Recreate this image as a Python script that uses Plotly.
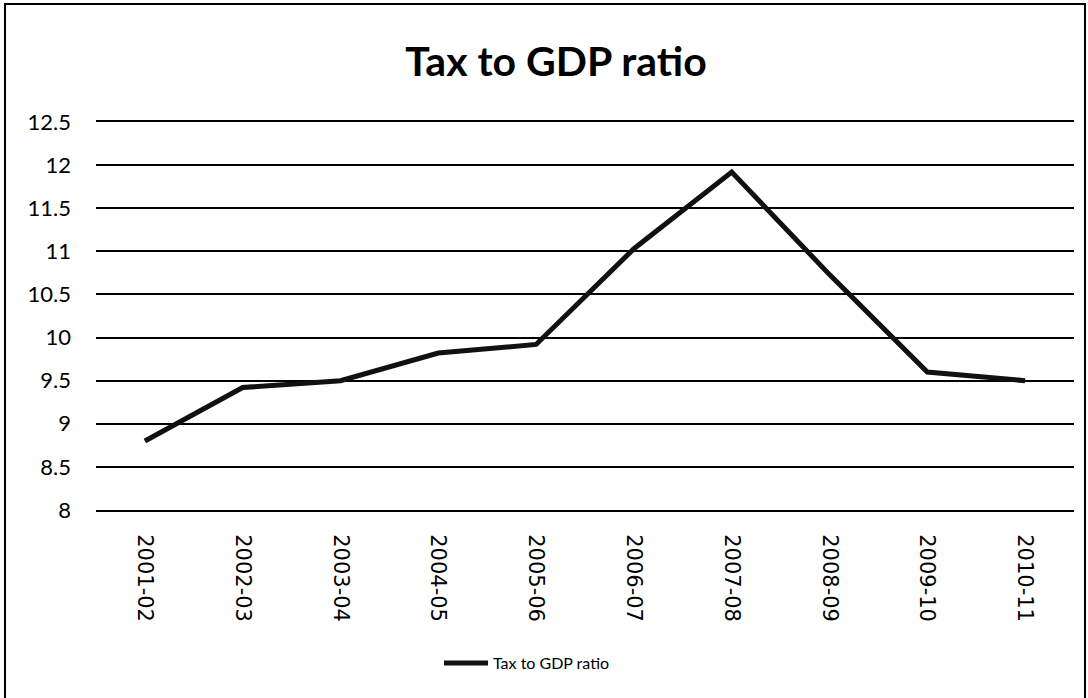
import plotly.graph_objects as go

years = ["2001-02", "2002-03", "2003-04", "2004-05", "2005-06",
         "2006-07", "2007-08", "2008-09", "2009-10", "2010-11"]
tax_gdp = [8.8, 9.42, 9.5, 9.82, 9.92, 11.03, 11.92, 10.73, 9.6, 9.5]
y_ticks = [8, 8.5, 9, 9.5, 10, 10.5, 11, 11.5, 12, 12.5]
y_tick_text = ["8", "8.5", "9", "9.5", "10", "10.5", "11", "11.5", "12", "12.5"]

W, H = 1088, 698
L, R, T, B = 96, 14, 122, 188
pw, ph = W - L - R, H - T - B


def px_x(p):
    return (p - L) / pw


def px_y(p):
    return (H - B - p) / ph


fig = go.Figure()
fig.add_trace(go.Scatter(
    x=years, y=tax_gdp, mode="lines", name="Tax to GDP ratio",
    line=dict(color="#111111", width=5),
))

fig.update_layout(
    width=W, height=H,
    margin=dict(l=L, r=R, t=T, b=B),
    paper_bgcolor="white", plot_bgcolor="white",
    title=dict(text="<b>Tax to GDP ratio</b>", x=556 / W, xref="container",
               xanchor="center", y=1 - 62 / H, yanchor="middle",
               font=dict(family="Lato", size=41, color="black")),
    showlegend=True,
    legend=dict(orientation="h", x=px_x(527), xanchor="center", y=px_y(663),
                yanchor="middle", font=dict(family="Lato", size=16, color="black"),
                itemwidth=44, bgcolor="rgba(0,0,0,0)"),
    xaxis=dict(type="category", range=[-0.5, len(years) - 0.5], tickangle=90,
               showgrid=False, showline=True, mirror=True,
               linecolor="black", linewidth=2,
               ticks="", ticklabelstandoff=18,
               tickfont=dict(family="DejaVu Sans", size=21, color="black")),
    yaxis=dict(range=[8, 12.5], tickvals=y_ticks, ticktext=y_tick_text,
               showgrid=True, gridcolor="black", gridwidth=2,
               zeroline=False, showline=False, ticks="", ticklabelstandoff=24,
               tickfont=dict(family="Lato", size=22, color="black")),
    shapes=[dict(type="rect", xref="paper", yref="paper",
                 x0=px_x(5), x1=px_x(1085), y0=px_y(700), y1=px_y(4),
                 line=dict(color="black", width=2), fillcolor="rgba(0,0,0,0)",
                 layer="below")],
)

fig.write_html("out.html")
